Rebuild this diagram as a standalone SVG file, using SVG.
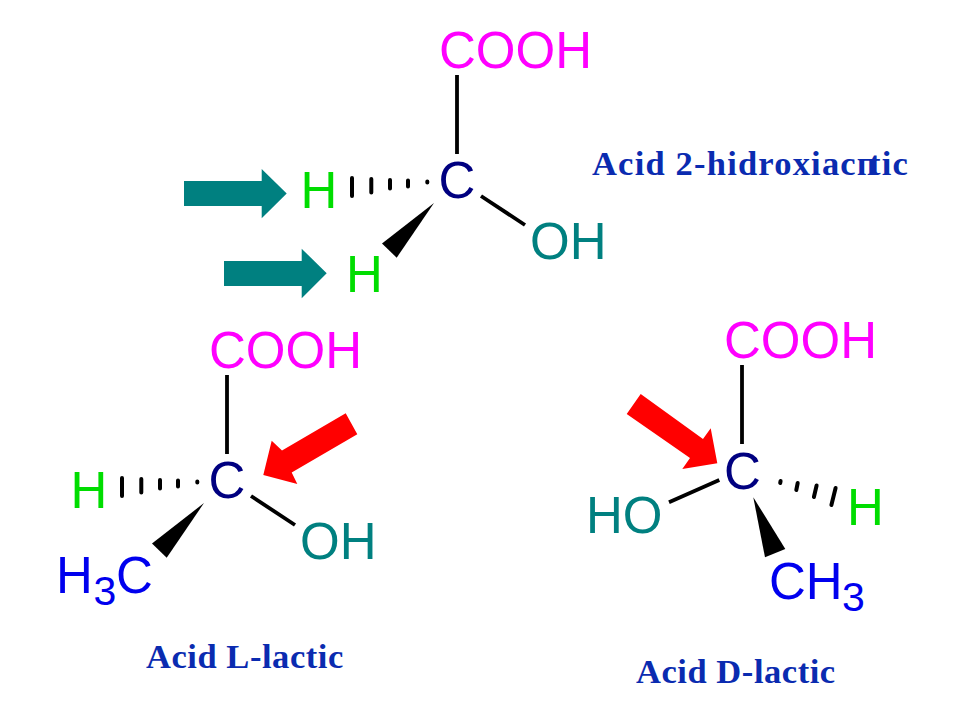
<svg xmlns="http://www.w3.org/2000/svg" width="960" height="720" viewBox="0 0 960 720">
<style>
text{font-family:"Liberation Sans",Arial,sans-serif;font-size:51px}
.cooh{fill:#ff00ff}.c{fill:#000080}.h{fill:#00dd00}.oh{fill:#008080}.me{fill:#0000ee}
.sub{font-size:41px}
.name{font-family:"Liberation Serif","Times New Roman",serif;font-size:34.5px;font-weight:bold;fill:#0a2bb0;letter-spacing:.55px}
.wide{letter-spacing:1.2px}
.bond{stroke:#000;stroke-width:3.8;fill:none}
.hash{stroke:#000;stroke-width:4;stroke-linecap:round;fill:none}
.wedge{fill:#000}.teal{fill:#008080}.red{fill:#ff0000}
</style>
<rect width="960" height="720" fill="#fff"/>
<g id="connectors">
<g id="bonds-top">
<path class="bond" d="M457 75V154M481 196L525 225"/>
<path class="hash" d="M352 178V196M371.3 179V192.500M390 180V188.500M408 180.500V186.500M427.300 181.500V182.500"/>
<polygon class="wedge" points="434,203 382,243.500 396.700,257.700"/>
</g>
<g id="bonds-left">
<path class="bond" d="M227 375V454M251 496L295 525"/>
<path class="hash" d="M122 478V496M141.300 479V492.500M160 480V488.500M178 480.500V486.500M197.300 481.500V482.500"/>
<polygon class="wedge" points="204,503 152,543.500 166.700,557.700"/>
</g>
<g id="bonds-right">
<path class="bond" d="M742 365V444M719.300 480L669 502.300"/>
<path class="hash" d="M780.600 481L780.200 483M797.700 483L796.300 490M816.600 485.500L813.900 497M835.600 488L831.400 505"/>
<polygon class="wedge" points="753.300,497.300 765,557.300 785.300,549"/>
</g>
</g>
<g id="arrow-teal-1"><polygon class="teal" points="184,181 261.700,181 261.700,169 286.700,193.500 261.700,218.300 261.700,206 184,206"/></g>
<g id="arrow-teal-2"><polygon class="teal" points="224,261 301.700,261 301.700,248.700 326.700,273.300 301.700,298.300 301.700,286 224,286"/></g>
<g id="arrow-red-left"><polygon class="red" points="345.700,413.300 357.300,434.300 291.700,472.500 297.300,484 263.300,475 271.700,440.700 282,450.400"/></g>
<g id="arrow-red-right"><polygon class="red" points="640.700,394 626.700,414 690,458 682.300,469 717.300,463.300 710.700,428.300 703,439"/></g>
<g id="molecule-top">
<text class="cooh" x="439" y="68">COOH</text>
<text class="c" x="438.500" y="198">C</text>
<text class="h" x="300.500" y="208">H</text>
<text class="h" x="346" y="292">H</text>
<text class="oh" x="530" y="259">OH</text>
<text class="name wide" x="592" y="175">Acid 2-hidroxiacп<tspan dx="-9">t</tspan>ic</text>
</g>
<g id="molecule-left">
<text class="cooh" x="209" y="368">COOH</text>
<text class="c" x="208.500" y="498">C</text>
<text class="h" x="70.500" y="508">H</text>
<text class="oh" x="300" y="559">OH</text>
<text class="me" x="56" y="593">H<tspan class="sub" x="93.500" y="605">3</tspan><tspan x="116" y="593">C</tspan></text>
<text class="name" x="146" y="667.500">Acid L-lactic</text>
</g>
<g id="molecule-right">
<text class="cooh" x="724" y="358">COOH</text>
<text class="c" x="724" y="488.500">C</text>
<text class="h" x="847" y="524.500">H</text>
<text class="oh" x="586" y="533">HO</text>
<text class="me" x="769" y="598.500">CH<tspan class="sub" x="842" y="611">3</tspan></text>
<text class="name" x="636" y="683">Acid D-lactic</text>
</g>
</svg>
